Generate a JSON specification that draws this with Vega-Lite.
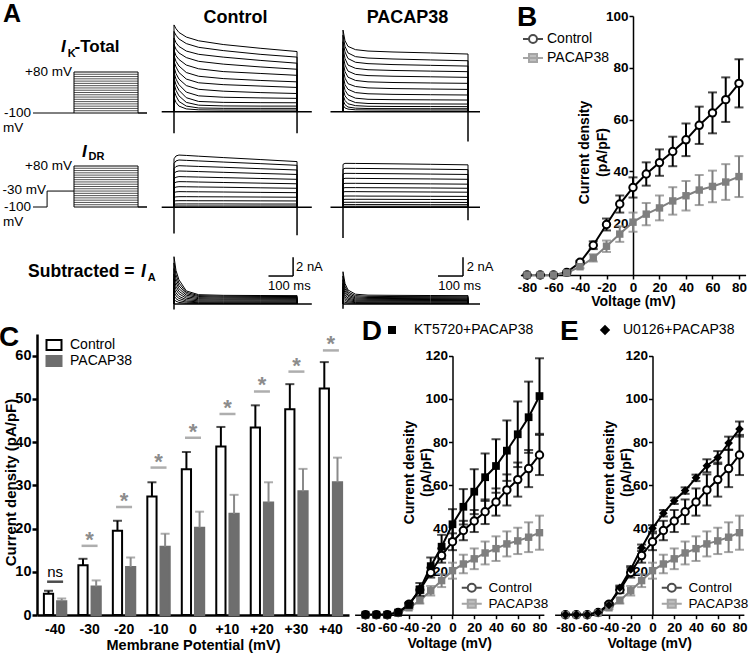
{
"$schema":"https://vega.github.io/schema/vega-lite/v6.json",
"width":750,"height":658,"padding":0,"autosize":{"type":"none"},"background":"white",
"config":{"view":{"stroke":null},"font":"Liberation Sans",
 "axis":{"grid":false,"domainColor":"#000000","tickColor":"#000000","labelColor":"#000000","titleColor":"#000000","labelFont":"Liberation Sans","titleFont":"Liberation Sans","labelFontWeight":"bold","titleFontWeight":"bold"},
 "legend":{"labelFont":"Liberation Sans","labelColor":"#000000"},
 "text":{"font":"Liberation Sans","color":"#000000"}},
"datasets":{
 "one":[{"z":0}],
 "tk":[{"key":"o","t":0,"n":0},{"key":"a","t":0,"n":1},{"key":"h","t":8,"n":2},{"key":"b","t":20,"n":3},{"key":"c","t":50,"n":4},{"key":"d","t":100,"n":5},{"key":"e","t":200,"n":6},{"key":"f","t":350,"n":7},{"key":"g","t":500,"n":8},{"key":"q","t":500,"n":9}],
 "tr":[
  {"p":"ck","k":1,"o":0,"a":9.3,"h":8.9,"b":8.5,"c":8.0,"d":7.6,"e":7.2,"f":6.8,"g":6.45,"q":0},
  {"p":"ck","k":2,"o":0,"a":8.6,"h":8.2,"b":7.8,"c":7.3,"d":6.9,"e":6.55,"f":6.15,"g":5.85,"q":0},
  {"p":"ck","k":3,"o":0,"a":7.9,"h":7.4,"b":7.0,"c":6.5,"d":6.15,"e":5.85,"f":5.5,"g":5.2,"q":0},
  {"p":"ck","k":4,"o":0,"a":7.2,"h":6.7,"b":6.3,"c":5.8,"d":5.4,"e":5.1,"f":4.8,"g":4.55,"q":0},
  {"p":"ck","k":5,"o":0,"a":6.6,"h":6.0,"b":5.6,"c":5.0,"d":4.6,"e":4.3,"f":4.1,"g":3.9,"q":0},
  {"p":"ck","k":6,"o":0,"a":6.0,"h":5.4,"b":4.9,"c":4.2,"d":3.8,"e":3.55,"f":3.35,"g":3.2,"q":0},
  {"p":"ck","k":7,"o":0,"a":5.4,"h":4.8,"b":4.2,"c":3.5,"d":3.1,"e":2.9,"f":2.75,"g":2.6,"q":0},
  {"p":"ck","k":8,"o":0,"a":4.8,"h":4.1,"b":3.5,"c":2.8,"d":2.4,"e":2.2,"f":2.05,"g":1.95,"q":0},
  {"p":"ck","k":9,"o":0,"a":4.2,"h":3.5,"b":2.9,"c":2.1,"d":1.7,"e":1.55,"f":1.48,"g":1.43,"q":0},
  {"p":"ck","k":10,"o":0,"a":3.6,"h":2.9,"b":2.3,"c":1.5,"d":1.1,"e":1.0,"f":0.97,"g":0.96,"q":0},
  {"p":"ck","k":11,"o":0,"a":3.0,"h":2.3,"b":1.7,"c":1.0,"d":0.7,"e":0.62,"f":0.6,"g":0.6,"q":0},
  {"p":"ck","k":12,"o":0,"a":2.3,"h":1.7,"b":1.1,"c":0.6,"d":0.4,"e":0.36,"f":0.36,"g":0.36,"q":0},
  {"p":"ck","k":13,"o":0,"a":1.5,"h":1.0,"b":0.6,"c":0.3,"d":0.2,"e":0.18,"f":0.18,"g":0.18,"q":0},
  {"p":"pk","k":1,"o":0,"a":8.75,"h":7.6,"b":7.0,"c":6.65,"d":6.5,"e":6.4,"f":6.3,"g":6.18,"q":0},
  {"p":"pk","k":2,"o":0,"a":8.2,"h":7.0,"b":6.3,"c":5.9,"d":5.75,"e":5.65,"f":5.55,"g":5.46,"q":0},
  {"p":"pk","k":3,"o":0,"a":7.5,"h":6.4,"b":5.7,"c":5.3,"d":5.15,"e":5.05,"f":4.97,"g":4.89,"q":0},
  {"p":"pk","k":4,"o":0,"a":6.8,"h":5.7,"b":5.0,"c":4.65,"d":4.5,"e":4.42,"f":4.35,"g":4.29,"q":0},
  {"p":"pk","k":5,"o":0,"a":6.1,"h":5.0,"b":4.35,"c":4.0,"d":3.87,"e":3.8,"f":3.74,"g":3.68,"q":0},
  {"p":"pk","k":6,"o":0,"a":5.36,"h":4.3,"b":3.7,"c":3.35,"d":3.2,"e":3.13,"f":3.08,"g":3.04,"q":0},
  {"p":"pk","k":7,"o":0,"a":4.64,"h":3.6,"b":3.0,"c":2.7,"d":2.55,"e":2.48,"f":2.43,"g":2.39,"q":0},
  {"p":"pk","k":8,"o":0,"a":3.93,"h":2.9,"b":2.4,"c":2.05,"d":1.92,"e":1.86,"f":1.82,"g":1.79,"q":0},
  {"p":"pk","k":9,"o":0,"a":3.2,"h":2.3,"b":1.8,"c":1.45,"d":1.33,"e":1.29,"f":1.27,"g":1.25,"q":0},
  {"p":"pk","k":10,"o":0,"a":2.5,"h":1.7,"b":1.3,"c":0.98,"d":0.88,"e":0.85,"f":0.83,"g":0.82,"q":0},
  {"p":"pk","k":11,"o":0,"a":1.8,"h":1.2,"b":0.85,"c":0.65,"d":0.58,"e":0.56,"f":0.55,"g":0.54,"q":0},
  {"p":"pk","k":12,"o":0,"a":1.25,"h":0.75,"b":0.5,"c":0.38,"d":0.34,"e":0.33,"f":0.32,"g":0.32,"q":0},
  {"p":"pk","k":13,"o":0,"a":0.7,"h":0.4,"b":0.28,"c":0.2,"d":0.19,"e":0.18,"f":0.18,"g":0.18,"q":0},
  {"p":"cd","k":1,"o":0,"a":5.2,"h":5.5,"b":5.6,"c":5.56,"d":5.48,"e":5.33,"f":5.12,"g":4.9,"q":0},
  {"p":"cd","k":2,"o":0,"a":4.7,"h":4.97,"b":5.07,"c":5.03,"d":4.97,"e":4.85,"f":4.68,"g":4.5,"q":0},
  {"p":"cd","k":3,"o":0,"a":4.15,"h":4.37,"b":4.46,"c":4.43,"d":4.38,"e":4.29,"f":4.14,"g":4.0,"q":0},
  {"p":"cd","k":4,"o":0,"a":3.62,"h":3.81,"b":3.89,"c":3.87,"d":3.83,"e":3.75,"f":3.63,"g":3.52,"q":0},
  {"p":"cd","k":5,"o":0,"a":3.06,"h":3.22,"b":3.29,"c":3.27,"d":3.24,"e":3.18,"f":3.09,"g":3.0,"q":0},
  {"p":"cd","k":6,"o":0,"a":2.56,"h":2.7,"b":2.75,"c":2.74,"d":2.71,"e":2.66,"f":2.59,"g":2.52,"q":0},
  {"p":"cd","k":7,"o":0,"a":2.06,"h":2.17,"b":2.21,"c":2.2,"d":2.18,"e":2.15,"f":2.09,"g":2.04,"q":0},
  {"p":"cd","k":8,"o":0,"a":1.57,"h":1.65,"b":1.68,"c":1.67,"d":1.66,"e":1.64,"f":1.6,"g":1.57,"q":0},
  {"p":"cd","k":9,"o":0,"a":1.06,"h":1.12,"b":1.14,"c":1.14,"d":1.13,"e":1.12,"f":1.1,"g":1.08,"q":0},
  {"p":"cd","k":10,"o":0,"a":0.66,"h":0.7,"b":0.71,"c":0.71,"d":0.7,"e":0.7,"f":0.69,"g":0.68,"q":0},
  {"p":"cd","k":11,"o":0,"a":0.34,"h":0.35,"b":0.36,"c":0.36,"d":0.36,"e":0.36,"f":0.35,"g":0.35,"q":0},
  {"p":"cd","k":12,"o":0,"a":0.13,"h":0.14,"b":0.14,"c":0.14,"d":0.14,"e":0.14,"f":0.14,"g":0.14,"q":0},
  {"p":"pd","k":1,"o":0,"a":4.6,"h":4.71,"b":4.71,"c":4.7,"d":4.69,"e":4.66,"f":4.61,"g":4.55,"q":0},
  {"p":"pd","k":2,"o":0,"a":4.08,"h":4.18,"b":4.18,"c":4.17,"d":4.16,"e":4.13,"f":4.09,"g":4.04,"q":0},
  {"p":"pd","k":3,"o":0,"a":3.55,"h":3.64,"b":3.64,"c":3.63,"d":3.62,"e":3.6,"f":3.56,"g":3.52,"q":0},
  {"p":"pd","k":4,"o":0,"a":3.03,"h":3.11,"b":3.11,"c":3.1,"d":3.09,"e":3.07,"f":3.04,"g":3.0,"q":0},
  {"p":"pd","k":5,"o":0,"a":2.5,"h":2.57,"b":2.57,"c":2.57,"d":2.56,"e":2.54,"f":2.51,"g":2.48,"q":0},
  {"p":"pd","k":6,"o":0,"a":2.05,"h":2.11,"b":2.11,"c":2.11,"d":2.1,"e":2.09,"f":2.07,"g":2.04,"q":0},
  {"p":"pd","k":7,"o":0,"a":1.63,"h":1.68,"b":1.68,"c":1.68,"d":1.67,"e":1.66,"f":1.64,"g":1.62,"q":0},
  {"p":"pd","k":8,"o":0,"a":1.17,"h":1.21,"b":1.21,"c":1.21,"d":1.2,"e":1.2,"f":1.18,"g":1.17,"q":0},
  {"p":"pd","k":9,"o":0,"a":0.83,"h":0.86,"b":0.86,"c":0.86,"d":0.86,"e":0.85,"f":0.84,"g":0.83,"q":0},
  {"p":"pd","k":10,"o":0,"a":0.52,"h":0.54,"b":0.54,"c":0.54,"d":0.54,"e":0.53,"f":0.53,"g":0.52,"q":0},
  {"p":"pd","k":11,"o":0,"a":0.28,"h":0.29,"b":0.29,"c":0.29,"d":0.29,"e":0.29,"f":0.28,"g":0.28,"q":0},
  {"p":"pd","k":12,"o":0,"a":0.11,"h":0.11,"b":0.11,"c":0.11,"d":0.11,"e":0.11,"f":0.11,"g":0.11,"q":0},
  {"p":"ca","k":1,"o":0,"a":5.07,"h":3.6,"b":2.6,"c":1.4,"d":1.0,"e":0.93,"f":0.91,"g":0.9,"q":0},
  {"p":"ca","k":2,"o":0,"a":4.4,"h":3.15,"b":2.25,"c":1.25,"d":0.9,"e":0.83,"f":0.81,"g":0.8,"q":0},
  {"p":"ca","k":3,"o":0,"a":3.8,"h":2.7,"b":1.95,"c":1.1,"d":0.8,"e":0.73,"f":0.71,"g":0.7,"q":0},
  {"p":"ca","k":4,"o":0,"a":3.2,"h":2.3,"b":1.65,"c":0.95,"d":0.68,"e":0.63,"f":0.61,"g":0.6,"q":0},
  {"p":"ca","k":5,"o":0,"a":2.7,"h":1.9,"b":1.37,"c":0.78,"d":0.57,"e":0.52,"f":0.51,"g":0.5,"q":0},
  {"p":"ca","k":6,"o":0,"a":2.2,"h":1.55,"b":1.1,"c":0.62,"d":0.45,"e":0.42,"f":0.41,"g":0.4,"q":0},
  {"p":"ca","k":7,"o":0,"a":1.7,"h":1.2,"b":0.82,"c":0.46,"d":0.34,"e":0.31,"f":0.3,"g":0.3,"q":0},
  {"p":"ca","k":8,"o":0,"a":1.3,"h":0.88,"b":0.6,"c":0.32,"d":0.23,"e":0.21,"f":0.2,"g":0.2,"q":0},
  {"p":"ca","k":9,"o":0,"a":0.9,"h":0.58,"b":0.37,"c":0.2,"d":0.14,"e":0.13,"f":0.12,"g":0.12,"q":0},
  {"p":"ca","k":10,"o":0,"a":0.5,"h":0.3,"b":0.17,"c":0.08,"d":0.06,"e":0.05,"f":0.05,"g":0.05,"q":0},
  {"p":"pa","k":1,"o":0,"a":3.46,"h":2.2,"b":1.5,"c":1.05,"d":0.95,"e":0.93,"f":0.91,"g":0.9,"q":0},
  {"p":"pa","k":2,"o":0,"a":3.0,"h":1.9,"b":1.3,"c":0.9,"d":0.82,"e":0.8,"f":0.79,"g":0.78,"q":0},
  {"p":"pa","k":3,"o":0,"a":2.6,"h":1.65,"b":1.12,"c":0.77,"d":0.7,"e":0.69,"f":0.68,"g":0.67,"q":0},
  {"p":"pa","k":4,"o":0,"a":2.2,"h":1.4,"b":0.95,"c":0.65,"d":0.6,"e":0.59,"f":0.58,"g":0.57,"q":0},
  {"p":"pa","k":5,"o":0,"a":1.85,"h":1.17,"b":0.8,"c":0.54,"d":0.5,"e":0.49,"f":0.48,"g":0.47,"q":0},
  {"p":"pa","k":6,"o":0,"a":1.5,"h":0.95,"b":0.64,"c":0.43,"d":0.4,"e":0.39,"f":0.38,"g":0.38,"q":0},
  {"p":"pa","k":7,"o":0,"a":1.2,"h":0.75,"b":0.5,"c":0.33,"d":0.31,"e":0.3,"f":0.29,"g":0.29,"q":0},
  {"p":"pa","k":8,"o":0,"a":0.9,"h":0.55,"b":0.36,"c":0.23,"d":0.22,"e":0.21,"f":0.2,"g":0.2,"q":0},
  {"p":"pa","k":9,"o":0,"a":0.6,"h":0.36,"b":0.23,"c":0.15,"d":0.14,"e":0.13,"f":0.12,"g":0.12,"q":0},
  {"p":"pa","k":10,"o":0,"a":0.3,"h":0.18,"b":0.11,"c":0.07,"d":0.06,"e":0.06,"f":0.05,"g":0.05,"q":0}
 ],
 "rl":[
  {"p":"ck","t":-50,"t2":560,"i":0,"i2":0},{"p":"ck","t":0,"t2":0,"i":-2.3,"i2":0},{"p":"ck","t":500,"t2":500,"i":-2.3,"i2":0},
  {"p":"pk","t":-50,"t2":548,"i":0,"i2":0},{"p":"pk","t":500,"t2":500,"i":-3.2,"i2":0},
  {"p":"cd","t":-50,"t2":560,"i":0,"i2":0},{"p":"cd","t":0,"t2":0,"i":-2.8,"i2":0},{"p":"cd","t":500,"t2":500,"i":-3.0,"i2":0},
  {"p":"pd","t":-50,"t2":548,"i":0,"i2":0},{"p":"pd","t":0,"t2":0,"i":-3.3,"i2":0},{"p":"pd","t":500,"t2":500,"i":-1.4,"i2":0},
  {"p":"ca","t":0,"t2":560,"i":0,"i2":0},{"p":"ca","t":0,"t2":0,"i":-0.6,"i2":0},{"p":"ca","t":484,"t2":484,"i":3,"i2":5},{"p":"ca","t":384,"t2":484,"i":3,"i2":3},
  {"p":"pa","t":0,"t2":548,"i":0,"i2":0},{"p":"pa","t":0,"t2":0,"i":-0.5,"i2":0},{"p":"pa","t":480,"t2":480,"i":3,"i2":5},{"p":"pa","t":380,"t2":480,"i":3,"i2":3}
 ],
 "lev":[{"v":-90},{"v":-80},{"v":-70},{"v":-60},{"v":-50},{"v":-40},{"v":-30},{"v":-20},{"v":-10},{"v":0},{"v":10},{"v":20},{"v":30},{"v":40},{"v":50},{"v":60},{"v":70}],
 "proto":[
  {"p":"tot","n":0,"t":-320,"v":-100},{"p":"tot","n":1,"t":570,"v":-100},{"p":"tot","n":2,"t":500,"v":-100},{"p":"tot","n":3,"t":500,"v":80},{"p":"tot","n":4,"t":0,"v":80},{"p":"tot","n":5,"t":0,"v":-100},
  {"p":"dr","n":0,"t":-320,"v":-100},{"p":"dr","n":1,"t":-210,"v":-100},{"p":"dr","n":2,"t":-210,"v":-30},{"p":"dr","n":3,"t":0,"v":-30},{"p":"dr","n":4,"t":0,"v":-100},{"p":"dr","n":5,"t":570,"v":-100},{"p":"dr","n":6,"t":500,"v":-100},{"p":"dr","n":7,"t":500,"v":80},{"p":"dr","n":8,"t":0,"v":80},{"p":"dr","n":9,"t":0,"v":-30}
 ],
 "iv":[
  {"g":"Control","v":-80,"m":0,"e":0},{"g":"Control","v":-70,"m":0,"e":0},{"g":"Control","v":-60,"m":0,"e":0},{"g":"Control","v":-50,"m":1,"e":0},{"g":"Control","v":-40,"m":4.9,"e":0.6},{"g":"Control","v":-30,"m":11.5,"e":1.5},{"g":"Control","v":-20,"m":19.5,"e":2.3},{"g":"Control","v":-10,"m":27.4,"e":3.3},{"g":"Control","v":0,"m":33.8,"e":3.9},{"g":"Control","v":10,"m":39,"e":4.5},{"g":"Control","v":20,"m":43.4,"e":5.1},{"g":"Control","v":30,"m":47.7,"e":5.7},{"g":"Control","v":40,"m":52.2,"e":6.3},{"g":"Control","v":50,"m":57.8,"e":7.2},{"g":"Control","v":60,"m":62.6,"e":7.9},{"g":"Control","v":70,"m":67.7,"e":8.6},{"g":"Control","v":80,"m":74,"e":9.3},
  {"g":"PACAP38","v":-80,"m":0,"e":0},{"g":"PACAP38","v":-70,"m":0,"e":0},{"g":"PACAP38","v":-60,"m":0,"e":0},{"g":"PACAP38","v":-50,"m":0.8,"e":0},{"g":"PACAP38","v":-40,"m":3.2,"e":0.6},{"g":"PACAP38","v":-30,"m":6.6,"e":1.4},{"g":"PACAP38","v":-20,"m":11.1,"e":2.2},{"g":"PACAP38","v":-10,"m":15.8,"e":3},{"g":"PACAP38","v":0,"m":20.4,"e":3.7},{"g":"PACAP38","v":10,"m":23.5,"e":4.3},{"g":"PACAP38","v":20,"m":25.9,"e":4.8},{"g":"PACAP38","v":30,"m":28.6,"e":5.3},{"g":"PACAP38","v":40,"m":30.6,"e":5.7},{"g":"PACAP38","v":50,"m":32.8,"e":5.8},{"g":"PACAP38","v":60,"m":34.2,"e":6.1},{"g":"PACAP38","v":70,"m":35.9,"e":6.9},{"g":"PACAP38","v":80,"m":38,"e":7.9},
  {"g":"KT5720+PACAP38","v":-80,"m":0,"e":0},{"g":"KT5720+PACAP38","v":-70,"m":0,"e":0},{"g":"KT5720+PACAP38","v":-60,"m":0,"e":0},{"g":"KT5720+PACAP38","v":-50,"m":1,"e":0},{"g":"KT5720+PACAP38","v":-40,"m":4.5,"e":1},{"g":"KT5720+PACAP38","v":-30,"m":11.7,"e":3},{"g":"KT5720+PACAP38","v":-20,"m":22.5,"e":4},{"g":"KT5720+PACAP38","v":-10,"m":31.5,"e":5.5},{"g":"KT5720+PACAP38","v":0,"m":41.9,"e":7},{"g":"KT5720+PACAP38","v":10,"m":50,"e":8.2},{"g":"KT5720+PACAP38","v":20,"m":57,"e":10.4},{"g":"KT5720+PACAP38","v":30,"m":63.7,"e":11},{"g":"KT5720+PACAP38","v":40,"m":68.9,"e":12.4},{"g":"KT5720+PACAP38","v":50,"m":76,"e":14},{"g":"KT5720+PACAP38","v":60,"m":83.6,"e":15.2},{"g":"KT5720+PACAP38","v":70,"m":91.5,"e":16.5},{"g":"KT5720+PACAP38","v":80,"m":101.3,"e":17.5},
  {"g":"U0126+PACAP38","v":-80,"m":0,"e":0},{"g":"U0126+PACAP38","v":-70,"m":0,"e":0},{"g":"U0126+PACAP38","v":-60,"m":0,"e":0},{"g":"U0126+PACAP38","v":-50,"m":1,"e":0},{"g":"U0126+PACAP38","v":-40,"m":4.5,"e":0.8},{"g":"U0126+PACAP38","v":-30,"m":12.5,"e":1},{"g":"U0126+PACAP38","v":-20,"m":21,"e":1.5},{"g":"U0126+PACAP38","v":-10,"m":31,"e":1.5},{"g":"U0126+PACAP38","v":0,"m":40,"e":1.5},{"g":"U0126+PACAP38","v":10,"m":47,"e":1.5},{"g":"U0126+PACAP38","v":20,"m":52.8,"e":1.5},{"g":"U0126+PACAP38","v":30,"m":57.5,"e":1.5},{"g":"U0126+PACAP38","v":40,"m":63.4,"e":1.5},{"g":"U0126+PACAP38","v":50,"m":69,"e":3},{"g":"U0126+PACAP38","v":60,"m":72.8,"e":3},{"g":"U0126+PACAP38","v":70,"m":79.5,"e":3},{"g":"U0126+PACAP38","v":80,"m":86,"e":3.5}
 ],
 "bars":[
  {"v":"-40","g":"Control","m":4.9,"hi":5.6},{"v":"-30","g":"Control","m":11.5,"hi":13.0},{"v":"-20","g":"Control","m":19.5,"hi":21.8},{"v":"-10","g":"Control","m":27.4,"hi":30.7},{"v":"0","g":"Control","m":33.7,"hi":37.7},{"v":"+10","g":"Control","m":39.0,"hi":43.5},{"v":"+20","g":"Control","m":43.4,"hi":48.5},{"v":"+30","g":"Control","m":47.6,"hi":53.4},{"v":"+40","g":"Control","m":52.4,"hi":58.5},
  {"v":"-40","g":"PACAP38","m":3.2,"hi":3.8},{"v":"-30","g":"PACAP38","m":6.6,"hi":8.0},{"v":"-20","g":"PACAP38","m":11.1,"hi":13.3},{"v":"-10","g":"PACAP38","m":15.8,"hi":18.8},{"v":"0","g":"PACAP38","m":20.2,"hi":23.9},{"v":"+10","g":"PACAP38","m":23.4,"hi":27.8},{"v":"+20","g":"PACAP38","m":26.0,"hi":30.7},{"v":"+30","g":"PACAP38","m":28.6,"hi":33.8},{"v":"+40","g":"PACAP38","m":30.7,"hi":36.4}
 ],
 "sig":[
  {"v":"-40","ly":7.7,"lab":"ns"},{"v":"-30","ly":16,"lab":"*"},{"v":"-20","ly":25,"lab":"*"},{"v":"-10","ly":34.1,"lab":"*"},{"v":"0","ly":41,"lab":"*"},{"v":"+10","ly":46.5,"lab":"*"},{"v":"+20","ly":51.7,"lab":"*"},{"v":"+30","ly":56.3,"lab":"*"},{"v":"+40","ly":61.2,"lab":"*"}
 ]
},
"resolve":{"scale":{"x":"independent","y":"independent","color":"independent","fill":"independent","stroke":"independent","shape":"independent","opacity":"independent","xOffset":"independent"},"axis":{"x":"independent","y":"independent"},"legend":{"color":"independent","fill":"independent","stroke":"independent","shape":"independent","opacity":"independent"}},
"layer":[
 {"layer":[
  {"data":{"name":"tr"},"transform":[{"filter":"datum.p==='ck'"},{"fold":["o","a","h","b","c","d","e","f","g","q"],"as":["key","i"]},{"lookup":"key","from":{"data":{"name":"tk"},"key":"key","fields":["t","n"]}}],
   "mark":{"type":"line","color":"#000000","strokeWidth":1},
   "encoding":{"x":{"field":"t","type":"quantitative","scale":{"domain":[-50,560],"range":[161.7,311.8],"nice":false,"zero":false},"axis":null},"y":{"field":"i","type":"quantitative","scale":{"domain":[-3,10],"range":[139.7,18.4],"nice":false,"zero":false},"axis":null},"detail":{"field":"k","type":"nominal"},"order":{"field":"n","type":"quantitative"}}},
  {"data":{"name":"rl"},"transform":[{"filter":"datum.p==='ck'"}],"mark":{"type":"rule","color":"#000000","strokeWidth":1.5},
   "encoding":{"x":{"field":"t","type":"quantitative","axis":null},"x2":{"field":"t2"},"y":{"field":"i","type":"quantitative","axis":null},"y2":{"field":"i2"}}},
  {"data":{"name":"one"},"mark":{"type":"text","text":"Control","fontSize":18,"fontWeight":"bold","align":"center","baseline":"alphabetic"},
   "encoding":{"x":{"datum":250,"type":"quantitative","axis":null},"y":{"datum":9.5,"type":"quantitative","axis":null}}}
 ]},
 {"layer":[
  {"data":{"name":"tr"},"transform":[{"filter":"datum.p==='pk'"},{"fold":["o","a","h","b","c","d","e","f","g","q"],"as":["key","i"]},{"lookup":"key","from":{"data":{"name":"tk"},"key":"key","fields":["t","n"]}}],
   "mark":{"type":"line","color":"#000000","strokeWidth":1},
   "encoding":{"x":{"field":"t","type":"quantitative","scale":{"domain":[-50,560],"range":[330.5,483],"nice":false,"zero":false},"axis":null},"y":{"field":"i","type":"quantitative","scale":{"domain":[-3,10],"range":[139.7,18.4],"nice":false,"zero":false},"axis":null},"detail":{"field":"k","type":"nominal"},"order":{"field":"n","type":"quantitative"}}},
  {"data":{"name":"rl"},"transform":[{"filter":"datum.p==='pk'"}],"mark":{"type":"rule","color":"#000000","strokeWidth":1.5},
   "encoding":{"x":{"field":"t","type":"quantitative","axis":null},"x2":{"field":"t2"},"y":{"field":"i","type":"quantitative","axis":null},"y2":{"field":"i2"}}},
  {"data":{"name":"one"},"mark":{"type":"text","text":"PACAP38","fontSize":18,"fontWeight":"bold","align":"center","baseline":"alphabetic"},
   "encoding":{"x":{"datum":258,"type":"quantitative","axis":null},"y":{"datum":9.5,"type":"quantitative","axis":null}}}
 ]},
 {"layer":[
  {"data":{"name":"tr"},"transform":[{"filter":"datum.p==='cd'"},{"fold":["o","a","h","b","c","d","e","f","g","q"],"as":["key","i"]},{"lookup":"key","from":{"data":{"name":"tk"},"key":"key","fields":["t","n"]}}],
   "mark":{"type":"line","color":"#000000","strokeWidth":1},
   "encoding":{"x":{"field":"t","type":"quantitative","scale":{"domain":[-50,560],"range":[161.7,311.8],"nice":false,"zero":false},"axis":null},"y":{"field":"i","type":"quantitative","scale":{"domain":[-3,10],"range":[235.3,114],"nice":false,"zero":false},"axis":null},"detail":{"field":"k","type":"nominal"},"order":{"field":"n","type":"quantitative"}}},
  {"data":{"name":"rl"},"transform":[{"filter":"datum.p==='cd'"}],"mark":{"type":"rule","color":"#000000","strokeWidth":1.5},
   "encoding":{"x":{"field":"t","type":"quantitative","axis":null},"x2":{"field":"t2"},"y":{"field":"i","type":"quantitative","axis":null},"y2":{"field":"i2"}}}
 ]},
 {"layer":[
  {"data":{"name":"tr"},"transform":[{"filter":"datum.p==='pd'"},{"fold":["o","a","h","b","c","d","e","f","g","q"],"as":["key","i"]},{"lookup":"key","from":{"data":{"name":"tk"},"key":"key","fields":["t","n"]}}],
   "mark":{"type":"line","color":"#000000","strokeWidth":1},
   "encoding":{"x":{"field":"t","type":"quantitative","scale":{"domain":[-50,560],"range":[330.5,483],"nice":false,"zero":false},"axis":null},"y":{"field":"i","type":"quantitative","scale":{"domain":[-3,10],"range":[235.3,114],"nice":false,"zero":false},"axis":null},"detail":{"field":"k","type":"nominal"},"order":{"field":"n","type":"quantitative"}}},
  {"data":{"name":"rl"},"transform":[{"filter":"datum.p==='pd'"}],"mark":{"type":"rule","color":"#000000","strokeWidth":1.5},
   "encoding":{"x":{"field":"t","type":"quantitative","axis":null},"x2":{"field":"t2"},"y":{"field":"i","type":"quantitative","axis":null},"y2":{"field":"i2"}}}
 ]},
 {"layer":[
  {"data":{"name":"tr"},"transform":[{"filter":"datum.p==='ca'"},{"fold":["o","a","h","b","c","d","e","f","g","q"],"as":["key","i"]},{"lookup":"key","from":{"data":{"name":"tk"},"key":"key","fields":["t","n"]}}],
   "mark":{"type":"line","color":"#000000","strokeWidth":1},
   "encoding":{"x":{"field":"t","type":"quantitative","scale":{"domain":[-50,560],"range":[161.7,311.8],"nice":false,"zero":false},"axis":null},"y":{"field":"i","type":"quantitative","scale":{"domain":[-3,10],"range":[332,210.7],"nice":false,"zero":false},"axis":null},"detail":{"field":"k","type":"nominal"},"order":{"field":"n","type":"quantitative"}}},
  {"data":{"name":"rl"},"transform":[{"filter":"datum.p==='ca'"}],"mark":{"type":"rule","color":"#000000","strokeWidth":1.5},
   "encoding":{"x":{"field":"t","type":"quantitative","axis":null},"x2":{"field":"t2"},"y":{"field":"i","type":"quantitative","axis":null},"y2":{"field":"i2"}}},
  {"data":{"name":"one"},"mark":{"type":"text","text":"Subtracted =","fontSize":17.5,"fontWeight":"bold","align":"left","baseline":"alphabetic"},
   "encoding":{"x":{"datum":-593,"type":"quantitative","axis":null},"y":{"datum":2.93,"type":"quantitative","axis":null}}},
  {"data":{"name":"one"},"mark":{"type":"text","text":"I","fontSize":17.5,"fontWeight":"bold","fontStyle":"italic","align":"left","baseline":"alphabetic"},
   "encoding":{"x":{"datum":-134,"type":"quantitative","axis":null},"y":{"datum":2.93,"type":"quantitative","axis":null}}},
  {"data":{"name":"one"},"mark":{"type":"text","text":"A","fontSize":11,"fontWeight":"bold","align":"left","baseline":"alphabetic"},
   "encoding":{"x":{"datum":-107,"type":"quantitative","axis":null},"y":{"datum":2.5,"type":"quantitative","axis":null}}},
  {"data":{"name":"one"},"mark":{"type":"text","text":"2 nA","fontSize":13,"align":"left","baseline":"middle"},
   "encoding":{"x":{"datum":496,"type":"quantitative","axis":null},"y":{"datum":4,"type":"quantitative","axis":null}}},
  {"data":{"name":"one"},"mark":{"type":"text","text":"100 ms","fontSize":13,"align":"left","baseline":"middle"},
   "encoding":{"x":{"datum":382,"type":"quantitative","axis":null},"y":{"datum":1.93,"type":"quantitative","axis":null}}}
 ]},
 {"layer":[
  {"data":{"name":"tr"},"transform":[{"filter":"datum.p==='pa'"},{"fold":["o","a","h","b","c","d","e","f","g","q"],"as":["key","i"]},{"lookup":"key","from":{"data":{"name":"tk"},"key":"key","fields":["t","n"]}}],
   "mark":{"type":"line","color":"#000000","strokeWidth":1},
   "encoding":{"x":{"field":"t","type":"quantitative","scale":{"domain":[-50,560],"range":[330.5,483],"nice":false,"zero":false},"axis":null},"y":{"field":"i","type":"quantitative","scale":{"domain":[-3,10],"range":[332,210.7],"nice":false,"zero":false},"axis":null},"detail":{"field":"k","type":"nominal"},"order":{"field":"n","type":"quantitative"}}},
  {"data":{"name":"rl"},"transform":[{"filter":"datum.p==='pa'"}],"mark":{"type":"rule","color":"#000000","strokeWidth":1.5},
   "encoding":{"x":{"field":"t","type":"quantitative","axis":null},"x2":{"field":"t2"},"y":{"field":"i","type":"quantitative","axis":null},"y2":{"field":"i2"}}},
  {"data":{"name":"one"},"mark":{"type":"text","text":"2 nA","fontSize":13,"align":"left","baseline":"middle"},
   "encoding":{"x":{"datum":495,"type":"quantitative","axis":null},"y":{"datum":4,"type":"quantitative","axis":null}}},
  {"data":{"name":"one"},"mark":{"type":"text","text":"100 ms","fontSize":13,"align":"left","baseline":"middle"},
   "encoding":{"x":{"datum":381,"type":"quantitative","axis":null},"y":{"datum":1.93,"type":"quantitative","axis":null}}}
 ]},
 {"layer":[
  {"data":{"name":"lev"},"mark":{"type":"rule","color":"#555555","strokeWidth":1},
   "encoding":{"x":{"datum":0,"type":"quantitative","scale":{"domain":[-320,570],"range":[33,147],"nice":false,"zero":false},"axis":null},"x2":{"datum":500},"y":{"field":"v","type":"quantitative","scale":{"domain":[-100,80],"range":[113,72],"nice":false,"zero":false},"axis":null}}},
  {"data":{"name":"proto"},"transform":[{"filter":"datum.p==='tot'"}],"mark":{"type":"line","color":"#000000","strokeWidth":1},
   "encoding":{"x":{"field":"t","type":"quantitative","axis":null},"y":{"field":"v","type":"quantitative","axis":null},"order":{"field":"n","type":"quantitative"}}},
  {"data":{"name":"one"},"mark":{"type":"text","text":"A","fontSize":25,"fontWeight":"bold","align":"left","baseline":"alphabetic"},
   "encoding":{"x":{"datum":-554,"type":"quantitative","axis":null},"y":{"datum":298,"type":"quantitative","axis":null}}},
  {"data":{"name":"one"},"mark":{"type":"text","text":"+80 mV","fontSize":13.5,"align":"right","baseline":"middle","dx":-2},
   "encoding":{"x":{"datum":0,"type":"quantitative","axis":null},"y":{"datum":80,"type":"quantitative","axis":null}}},
  {"data":{"name":"one"},"mark":{"type":"text","text":"-100","fontSize":13.5,"align":"right","baseline":"middle","dx":-2},
   "encoding":{"x":{"datum":-320,"type":"quantitative","axis":null},"y":{"datum":-100,"type":"quantitative","axis":null}}},
  {"data":{"name":"one"},"mark":{"type":"text","text":"mV","fontSize":13.5,"align":"left","baseline":"middle","dx":-30,"dy":15},
   "encoding":{"x":{"datum":-320,"type":"quantitative","axis":null},"y":{"datum":-100,"type":"quantitative","axis":null}}},
  {"data":{"name":"one"},"mark":{"type":"text","text":"I","fontSize":17,"fontWeight":"bold","fontStyle":"italic","align":"left","baseline":"alphabetic"},
   "encoding":{"x":{"datum":-101,"type":"quantitative","axis":null},"y":{"datum":168,"type":"quantitative","axis":null}}},
  {"data":{"name":"one"},"mark":{"type":"text","text":"K","fontSize":11,"fontWeight":"bold","align":"left","baseline":"alphabetic"},
   "encoding":{"x":{"datum":-49,"type":"quantitative","axis":null},"y":{"datum":148,"type":"quantitative","axis":null}}},
  {"data":{"name":"one"},"mark":{"type":"text","text":"-Total","fontSize":17,"fontWeight":"bold","align":"left","baseline":"alphabetic"},
   "encoding":{"x":{"datum":4,"type":"quantitative","axis":null},"y":{"datum":168,"type":"quantitative","axis":null}}}
 ]},
 {"layer":[
  {"data":{"name":"lev"},"mark":{"type":"rule","color":"#555555","strokeWidth":1},
   "encoding":{"x":{"datum":0,"type":"quantitative","scale":{"domain":[-320,570],"range":[33,147],"nice":false,"zero":false},"axis":null},"x2":{"datum":500},"y":{"field":"v","type":"quantitative","scale":{"domain":[-100,80],"range":[207,166],"nice":false,"zero":false},"axis":null}}},
  {"data":{"name":"proto"},"transform":[{"filter":"datum.p==='dr'"}],"mark":{"type":"line","color":"#000000","strokeWidth":1},
   "encoding":{"x":{"field":"t","type":"quantitative","axis":null},"y":{"field":"v","type":"quantitative","axis":null},"order":{"field":"n","type":"quantitative"}}},
  {"data":{"name":"one"},"mark":{"type":"text","text":"+80 mV","fontSize":13.5,"align":"right","baseline":"middle","dx":-2},
   "encoding":{"x":{"datum":0,"type":"quantitative","axis":null},"y":{"datum":80,"type":"quantitative","axis":null}}},
  {"data":{"name":"one"},"mark":{"type":"text","text":"-30 mV","fontSize":13.5,"align":"right","baseline":"middle","dx":-1,"dy":-1},
   "encoding":{"x":{"datum":-210,"type":"quantitative","axis":null},"y":{"datum":-30,"type":"quantitative","axis":null}}},
  {"data":{"name":"one"},"mark":{"type":"text","text":"-100","fontSize":13.5,"align":"right","baseline":"middle","dx":-2},
   "encoding":{"x":{"datum":-320,"type":"quantitative","axis":null},"y":{"datum":-100,"type":"quantitative","axis":null}}},
  {"data":{"name":"one"},"mark":{"type":"text","text":"mV","fontSize":13.5,"align":"left","baseline":"middle","dx":-30,"dy":15},
   "encoding":{"x":{"datum":-320,"type":"quantitative","axis":null},"y":{"datum":-100,"type":"quantitative","axis":null}}},
  {"data":{"name":"one"},"mark":{"type":"text","text":"I","fontSize":17,"fontWeight":"bold","fontStyle":"italic","align":"left","baseline":"alphabetic"},
   "encoding":{"x":{"datum":63,"type":"quantitative","axis":null},"y":{"datum":119.5,"type":"quantitative","axis":null}}},
  {"data":{"name":"one"},"mark":{"type":"text","text":"DR","fontSize":11,"fontWeight":"bold","align":"left","baseline":"alphabetic"},
   "encoding":{"x":{"datum":113,"type":"quantitative","axis":null},"y":{"datum":106,"type":"quantitative","axis":null}}}
 ]},
 {"data":{"name":"iv"},"layer":[
  {"transform":[{"filter":"datum.g==='Control'||datum.g==='PACAP38'"}],
   "mark":{"type":"line","strokeWidth":2},
   "encoding":{
    "x":{"field":"v","type":"quantitative","scale":{"domain":[-85,85],"range":[520.4,745.6],"nice":false,"zero":false},
     "axis":{"orient":"bottom","offset":-383,"values":[-80,-60,-40,-20,0,20,40,60,80],"labelExpr":"''+datum.value","title":"Voltage (mV)","titleFontSize":14,"titlePadding":1,"labelFontSize":13.5,"labelPadding":1,"tickSize":4,"tickWidth":1.5,"domainWidth":1.5,"labelOverlap":false,"labelFlush":false}},
    "y":{"field":"m","type":"quantitative","scale":{"domain":[0,100],"range":[275,16],"nice":false,"zero":false},
     "axis":{"orient":"left","offset":-633,"values":[20,40,60,80,100],"title":["Current density","(pA/pF)"],"titleFontSize":14,"titleLineHeight":18.5,"titleX":-42,"titleY":152,"titleAngle":-90,"titleBaseline":"bottom","titleAlign":"center","labelFontSize":13.5,"labelPadding":1,"tickSize":4,"tickWidth":1.5,"domainWidth":1.5,"labelOverlap":false,"labelFlush":false}},
    "color":{"field":"g","type":"nominal","scale":{"domain":["PACAP38","Control"],"range":["#7f7f7f","#000000"]},"legend":null}}},
  {"transform":[{"filter":"(datum.g==='Control'||datum.g==='PACAP38')&&datum.e>0"}],
   "mark":{"type":"errorbar","ticks":true,"size":9,"thickness":2},
   "encoding":{"x":{"field":"v","type":"quantitative","title":"Voltage (mV)"},"y":{"field":"m","type":"quantitative","title":["Current density","(pA/pF)"]},"yError":{"field":"e"},"color":{"field":"g","type":"nominal","legend":null}}},
  {"transform":[{"filter":"datum.g==='Control'"}],"mark":{"type":"point","shape":"circle","filled":true,"fill":"#ffffff","stroke":"#000000","strokeWidth":2,"size":55,"opacity":1},
   "encoding":{"x":{"field":"v","type":"quantitative"},"y":{"field":"m","type":"quantitative"}}},
  {"transform":[{"filter":"datum.g==='PACAP38'"}],"mark":{"type":"point","shape":"square","filled":true,"color":"#7f7f7f","size":55,"opacity":1},
   "encoding":{"x":{"field":"v","type":"quantitative"},"y":{"field":"m","type":"quantitative"}}},
  {"transform":[{"filter":"datum.v>1000"}],"mark":{"type":"point","filled":true,"strokeWidth":2,"size":64},
   "encoding":{"x":{"field":"v","type":"quantitative"},"y":{"field":"m","type":"quantitative"},
    "shape":{"field":"g","type":"nominal","scale":{"domain":["Control","PACAP38"],"range":["M-2.5,0L-1,0M1,0L2.5,0M1,0A1,1,0,1,1,-1,0A1,1,0,1,1,1,0Z","M-2.5,0L2.5,0M-1,-1L1,-1L1,1L-1,1Z"]},"legend":{"orient":"none","legendX":526,"legendY":32,"title":null,"padding":0,"labelFontSize":14,"labelOffset":7,"rowPadding":3,"symbolSize":64,"symbolStrokeWidth":2}},
    "fill":{"field":"g","type":"nominal","scale":{"domain":["Control","PACAP38"],"range":["#ffffff","#7f7f7f"]},"legend":{"orient":"none","legendX":526,"legendY":32,"title":null,"padding":0,"labelFontSize":14,"labelOffset":7,"rowPadding":3,"symbolSize":64,"symbolStrokeWidth":2}},
    "stroke":{"field":"g","type":"nominal","scale":{"domain":["Control","PACAP38"],"range":["#000000","#7f7f7f"]},"legend":{"orient":"none","legendX":526,"legendY":32,"title":null,"padding":0,"labelFontSize":14,"labelOffset":7,"rowPadding":3,"symbolSize":64,"symbolStrokeWidth":2}}}},
  {"data":{"name":"one"},"mark":{"type":"text","text":"B","fontSize":28,"fontWeight":"bold","align":"left","baseline":"alphabetic"},
   "encoding":{"x":{"datum":-87.5,"type":"quantitative"},"y":{"datum":96.2,"type":"quantitative"}}}
 ]},
 {"layer":[
  {"data":{"name":"bars"},"mark":{"type":"bar","strokeWidth":2},
   "encoding":{
    "x":{"field":"v","type":"nominal","scale":{"domain":["-40","-30","-20","-10","0","+10","+20","+30","+40"],"range":[37,349],"paddingInner":0.35,"paddingOuter":0.2},
     "axis":{"orient":"bottom","offset":-43,"ticks":false,"labelAngle":0,"labelFontSize":14,"labelPadding":7,"domainWidth":2.5,"title":"Membrane Potential (mV)","titleFontSize":14.5,"titlePadding":2}},
    "xOffset":{"field":"g","type":"nominal","scale":{"domain":["Control","PACAP38"],"paddingInner":0.3}},
    "y":{"field":"m","type":"quantitative","scale":{"domain":[0,65],"range":[615,334],"nice":false,"zero":true},
     "axis":{"orient":"left","offset":-37,"values":[0,10,20,30,40,50,60],"tickSize":5,"tickWidth":2.5,"domainWidth":2.5,"labelFontSize":14.5,"labelPadding":1,"title":"Current density (pA/pF)","titleFontSize":15,"titleX":-19,"titleY":482,"titleAngle":-90,"titleBaseline":"bottom","titleAlign":"center"}},
    "fill":{"field":"g","type":"nominal","scale":{"domain":["Control","PACAP38"],"range":["#ffffff","#6e6e6e"]},
     "legend":{"orient":"none","legendX":47,"legendY":338,"title":null,"padding":0,"labelFontSize":14,"labelOffset":9,"rowPadding":-3,"symbolSize":100,"symbolType":"M-1.5,-1L1.5,-1L1.5,1L-1.5,1Z","symbolStrokeWidth":2}},
    "stroke":{"field":"g","type":"nominal","scale":{"domain":["Control","PACAP38"],"range":["#000000","#6e6e6e"]},
     "legend":{"orient":"none","legendX":47,"legendY":338,"title":null,"padding":0,"labelFontSize":14,"labelOffset":9,"rowPadding":-3,"symbolSize":100,"symbolType":"M-1.5,-1L1.5,-1L1.5,1L-1.5,1Z","symbolStrokeWidth":2}}}},
  {"data":{"name":"bars"},"mark":{"type":"rule","strokeWidth":2},
   "encoding":{"x":{"field":"v","type":"nominal"},"xOffset":{"field":"g","type":"nominal"},"y":{"field":"m","type":"quantitative"},"y2":{"field":"hi"},"color":{"condition":{"test":"datum.g==='Control'","value":"#000000"},"value":"#8a8a8a"}}},
  {"data":{"name":"bars"},"mark":{"type":"tick","size":9,"thickness":2},
   "encoding":{"x":{"field":"v","type":"nominal"},"xOffset":{"field":"g","type":"nominal"},"y":{"field":"hi","type":"quantitative"},"color":{"condition":{"test":"datum.g==='Control'","value":"#000000"},"value":"#8a8a8a"}}},
  {"data":{"name":"sig"},"mark":{"type":"tick","size":16,"thickness":2.5},
   "encoding":{"x":{"field":"v","type":"nominal"},"y":{"field":"ly","type":"quantitative"},"color":{"condition":{"test":"datum.lab==='ns'","value":"#000000"},"value":"#8c8c8c"}}},
  {"data":{"name":"sig"},"transform":[{"filter":"datum.lab==='*'"}],"mark":{"type":"text","fontSize":22,"fontWeight":"bold","color":"#8c8c8c","align":"center","baseline":"alphabetic","dy":1},
   "encoding":{"x":{"field":"v","type":"nominal"},"y":{"field":"ly","type":"quantitative"},"text":{"field":"lab"}}},
  {"data":{"name":"sig"},"transform":[{"filter":"datum.lab==='ns'"}],"mark":{"type":"text","fontSize":15,"align":"center","baseline":"alphabetic","dy":-5},
   "encoding":{"x":{"field":"v","type":"nominal"},"y":{"field":"ly","type":"quantitative"},"text":{"field":"lab"}}},
  {"data":{"name":"one"},"mark":{"type":"text","text":"C","fontSize":28,"fontWeight":"bold","align":"left","baseline":"alphabetic","dx":-56},
   "encoding":{"x":{"datum":"-40","type":"nominal"},"y":{"datum":62.2,"type":"quantitative"}}}
 ]},
 {"data":{"name":"iv"},"layer":[
  {"transform":[{"filter":"datum.g==='Control'||datum.g==='PACAP38'"}],
   "mark":{"type":"line","strokeWidth":2},
   "encoding":{
    "x":{"field":"v","type":"quantitative","scale":{"domain":[-90,84],"range":[354.6,543.85],"nice":false,"zero":false},
     "axis":{"orient":"bottom","offset":-43.3,"values":[-80,-60,-40,-20,0,20,40,60,80],"labelExpr":"''+datum.value","title":"Voltage (mV)","titleFontSize":14,"titlePadding":2,"labelFontSize":13.5,"labelPadding":2,"tickSize":4,"tickWidth":1.5,"domainWidth":1.5,"labelOverlap":false,"labelFlush":false}},
    "y":{"field":"m","type":"quantitative","scale":{"domain":[0,120],"range":[614.7,355.7],"nice":false,"zero":false},
     "axis":{"orient":"left","offset":-452.5,"values":[20,40,60,80,100,120],"title":["Current density","(pA/pF)"],"titleFontSize":14,"titleLineHeight":17,"titleX":-36,"titleY":472,"titleAngle":-90,"titleBaseline":"bottom","titleAlign":"center","labelFontSize":13.5,"labelPadding":1,"tickSize":4,"tickWidth":1.5,"domainWidth":1.5,"labelOverlap":false,"labelFlush":false}},
    "color":{"field":"g","type":"nominal","scale":{"domain":["PACAP38","Control"],"range":["#7f7f7f","#000000"]},"legend":null}}},
  {"transform":[{"filter":"(datum.g==='Control'||datum.g==='PACAP38')&&datum.e>0"}],
   "mark":{"type":"errorbar","ticks":true,"size":9,"thickness":2},
   "encoding":{"x":{"field":"v","type":"quantitative","title":"Voltage (mV)"},"y":{"field":"m","type":"quantitative","title":["Current density","(pA/pF)"]},"yError":{"field":"e"},"color":{"field":"g","type":"nominal","legend":null}}},
  {"transform":[{"filter":"datum.g==='KT5720+PACAP38'&&datum.e>0"}],
   "mark":{"type":"errorbar","ticks":true,"size":9,"thickness":2,"color":"#000000"},
   "encoding":{"x":{"field":"v","type":"quantitative","title":"Voltage (mV)"},"y":{"field":"m","type":"quantitative","title":["Current density","(pA/pF)"]},"yError":{"field":"e"}}},
  {"transform":[{"filter":"datum.g==='KT5720+PACAP38'"}],
   "mark":{"type":"line","strokeWidth":2,"color":"#000000"},
   "encoding":{"x":{"field":"v","type":"quantitative"},"y":{"field":"m","type":"quantitative"}}},
  {"transform":[{"filter":"datum.g==='Control'"}],"mark":{"type":"point","shape":"circle","filled":true,"fill":"#ffffff","stroke":"#000000","strokeWidth":2,"size":55,"opacity":1},
   "encoding":{"x":{"field":"v","type":"quantitative"},"y":{"field":"m","type":"quantitative"}}},
  {"transform":[{"filter":"datum.g==='PACAP38'"}],"mark":{"type":"point","shape":"square","filled":true,"color":"#7f7f7f","size":55,"opacity":1},
   "encoding":{"x":{"field":"v","type":"quantitative"},"y":{"field":"m","type":"quantitative"}}},
  {"transform":[{"filter":"datum.g==='KT5720+PACAP38'"}],"mark":{"type":"point","shape":"square","filled":true,"color":"#000000","size":60,"opacity":1},
   "encoding":{"x":{"field":"v","type":"quantitative"},"y":{"field":"m","type":"quantitative"}}},
  {"transform":[{"filter":"datum.v>1000"}],"mark":{"type":"point","filled":true,"strokeWidth":2,"size":64},
   "encoding":{"x":{"field":"v","type":"quantitative"},"y":{"field":"m","type":"quantitative"},
    "shape":{"field":"g","type":"nominal","scale":{"domain":["Control","PACAP38"],"range":["M-2.5,0L-1,0M1,0L2.5,0M1,0A1,1,0,1,1,-1,0A1,1,0,1,1,1,0Z","M-2.5,0L2.5,0M-1,-1L1,-1L1,1L-1,1Z"]},"legend":{"orient":"none","legendX":465,"legendY":581,"title":null,"padding":0,"labelFontSize":13.5,"labelOffset":10,"rowPadding":-1,"symbolSize":64,"symbolStrokeWidth":2}},
    "fill":{"field":"g","type":"nominal","scale":{"domain":["Control","PACAP38"],"range":["#ffffff","#7f7f7f"]},"legend":{"orient":"none","legendX":465,"legendY":581,"title":null,"padding":0,"labelFontSize":13.5,"labelOffset":10,"rowPadding":-1,"symbolSize":64,"symbolStrokeWidth":2}},
    "stroke":{"field":"g","type":"nominal","scale":{"domain":["Control","PACAP38"],"range":["#000000","#7f7f7f"]},"legend":{"orient":"none","legendX":465,"legendY":581,"title":null,"padding":0,"labelFontSize":13.5,"labelOffset":10,"rowPadding":-1,"symbolSize":64,"symbolStrokeWidth":2}}}},
  {"transform":[{"filter":"datum.v>1000"}],"mark":{"type":"point","filled":true,"shape":"M-2.5,0L2.5,0M-1,-1L1,-1L1,1L-1,1Z","color":"#000000","stroke":"#000000","strokeWidth":2,"size":64},
   "encoding":{"x":{"field":"v","type":"quantitative"},"y":{"field":"m","type":"quantitative"},
    "opacity":{"field":"g","type":"nominal","scale":{"domain":["KT5720+PACAP38"],"range":[1]},"legend":{"orient":"none","legendX":385,"legendY":323,"title":null,"padding":0,"labelFontSize":14,"labelOffset":15,"symbolSize":64,"symbolStrokeWidth":2,"symbolType":"M-2.5,0L2.5,0M-1,-1L1,-1L1,1L-1,1Z","symbolFillColor":"#000000","symbolStrokeColor":"#000000"}}}},
  {"data":{"name":"one"},"mark":{"type":"text","text":"D","fontSize":28,"fontWeight":"bold","align":"left","baseline":"alphabetic"},
   "encoding":{"x":{"datum":-83.5,"type":"quantitative"},"y":{"datum":127.3,"type":"quantitative"}}}
 ]},
 {"data":{"name":"iv"},"layer":[
  {"transform":[{"filter":"datum.g==='Control'||datum.g==='PACAP38'"}],
   "mark":{"type":"line","strokeWidth":2},
   "encoding":{
    "x":{"field":"v","type":"quantitative","scale":{"domain":[-90,84],"range":[554.6,743.85],"nice":false,"zero":false},
     "axis":{"orient":"bottom","offset":-43.3,"values":[-80,-60,-40,-20,0,20,40,60,80],"labelExpr":"''+datum.value","title":"Voltage (mV)","titleFontSize":14,"titlePadding":2,"labelFontSize":13.5,"labelPadding":2,"tickSize":4,"tickWidth":1.5,"domainWidth":1.5,"labelOverlap":false,"labelFlush":false}},
    "y":{"field":"m","type":"quantitative","scale":{"domain":[0,120],"range":[614.7,355.7],"nice":false,"zero":false},
     "axis":{"orient":"left","offset":-652.5,"values":[20,40,60,80,100,120],"title":["Current density","(pA/pF)"],"titleFontSize":14,"titleLineHeight":17,"titleX":-36,"titleY":472,"titleAngle":-90,"titleBaseline":"bottom","titleAlign":"center","labelFontSize":13.5,"labelPadding":1,"tickSize":4,"tickWidth":1.5,"domainWidth":1.5,"labelOverlap":false,"labelFlush":false}},
    "color":{"field":"g","type":"nominal","scale":{"domain":["PACAP38","Control"],"range":["#7f7f7f","#000000"]},"legend":null}}},
  {"transform":[{"filter":"(datum.g==='Control'||datum.g==='PACAP38')&&datum.e>0"}],
   "mark":{"type":"errorbar","ticks":true,"size":9,"thickness":2},
   "encoding":{"x":{"field":"v","type":"quantitative","title":"Voltage (mV)"},"y":{"field":"m","type":"quantitative","title":["Current density","(pA/pF)"]},"yError":{"field":"e"},"color":{"field":"g","type":"nominal","legend":null}}},
  {"transform":[{"filter":"datum.g==='U0126+PACAP38'&&datum.e>0"}],
   "mark":{"type":"errorbar","ticks":true,"size":9,"thickness":2,"color":"#000000"},
   "encoding":{"x":{"field":"v","type":"quantitative","title":"Voltage (mV)"},"y":{"field":"m","type":"quantitative","title":["Current density","(pA/pF)"]},"yError":{"field":"e"}}},
  {"transform":[{"filter":"datum.g==='U0126+PACAP38'"}],
   "mark":{"type":"line","strokeWidth":2,"color":"#000000"},
   "encoding":{"x":{"field":"v","type":"quantitative"},"y":{"field":"m","type":"quantitative"}}},
  {"transform":[{"filter":"datum.g==='Control'"}],"mark":{"type":"point","shape":"circle","filled":true,"fill":"#ffffff","stroke":"#000000","strokeWidth":2,"size":55,"opacity":1},
   "encoding":{"x":{"field":"v","type":"quantitative"},"y":{"field":"m","type":"quantitative"}}},
  {"transform":[{"filter":"datum.g==='PACAP38'"}],"mark":{"type":"point","shape":"square","filled":true,"color":"#7f7f7f","size":55,"opacity":1},
   "encoding":{"x":{"field":"v","type":"quantitative"},"y":{"field":"m","type":"quantitative"}}},
  {"transform":[{"filter":"datum.g==='U0126+PACAP38'"}],"mark":{"type":"point","shape":"diamond","filled":true,"color":"#000000","size":75,"opacity":1},
   "encoding":{"x":{"field":"v","type":"quantitative"},"y":{"field":"m","type":"quantitative"}}},
  {"transform":[{"filter":"datum.v>1000"}],"mark":{"type":"point","filled":true,"strokeWidth":2,"size":64},
   "encoding":{"x":{"field":"v","type":"quantitative"},"y":{"field":"m","type":"quantitative"},
    "shape":{"field":"g","type":"nominal","scale":{"domain":["Control","PACAP38"],"range":["M-2.5,0L-1,0M1,0L2.5,0M1,0A1,1,0,1,1,-1,0A1,1,0,1,1,1,0Z","M-2.5,0L2.5,0M-1,-1L1,-1L1,1L-1,1Z"]},"legend":{"orient":"none","legendX":665,"legendY":581,"title":null,"padding":0,"labelFontSize":13.5,"labelOffset":10,"rowPadding":-1,"symbolSize":64,"symbolStrokeWidth":2}},
    "fill":{"field":"g","type":"nominal","scale":{"domain":["Control","PACAP38"],"range":["#ffffff","#7f7f7f"]},"legend":{"orient":"none","legendX":665,"legendY":581,"title":null,"padding":0,"labelFontSize":13.5,"labelOffset":10,"rowPadding":-1,"symbolSize":64,"symbolStrokeWidth":2}},
    "stroke":{"field":"g","type":"nominal","scale":{"domain":["Control","PACAP38"],"range":["#000000","#7f7f7f"]},"legend":{"orient":"none","legendX":665,"legendY":581,"title":null,"padding":0,"labelFontSize":13.5,"labelOffset":10,"rowPadding":-1,"symbolSize":64,"symbolStrokeWidth":2}}}},
  {"transform":[{"filter":"datum.v>1000"}],"mark":{"type":"point","filled":true,"shape":"M-2.5,0L2.5,0M0,-1.3L1.3,0L0,1.3L-1.3,0Z","color":"#000000","stroke":"#000000","strokeWidth":2,"size":64},
   "encoding":{"x":{"field":"v","type":"quantitative"},"y":{"field":"m","type":"quantitative"},
    "opacity":{"field":"g","type":"nominal","scale":{"domain":["U0126+PACAP38"],"range":[1]},"legend":{"orient":"none","legendX":598,"legendY":323,"title":null,"padding":0,"labelFontSize":14,"labelOffset":11,"symbolSize":64,"symbolStrokeWidth":2,"symbolType":"M-2.5,0L2.5,0M0,-1.3L1.3,0L0,1.3L-1.3,0Z","symbolFillColor":"#000000","symbolStrokeColor":"#000000"}}}},
  {"data":{"name":"one"},"mark":{"type":"text","text":"E","fontSize":28,"fontWeight":"bold","align":"left","baseline":"alphabetic"},
   "encoding":{"x":{"datum":-85,"type":"quantitative"},"y":{"datum":127.3,"type":"quantitative"}}}
 ]}
]
}
